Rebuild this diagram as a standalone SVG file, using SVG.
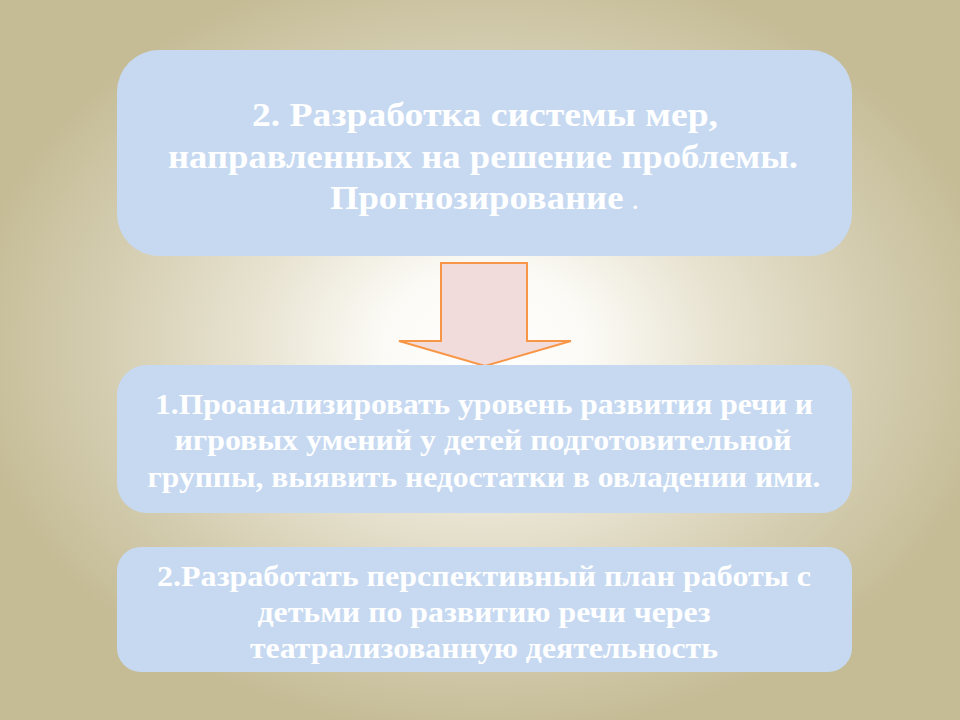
<svg xmlns="http://www.w3.org/2000/svg" width="960" height="720" viewBox="0 0 960 720">
  <defs>
    <radialGradient id="bg" cx="485" cy="345" r="520" gradientUnits="userSpaceOnUse" gradientTransform="translate(485 345) scale(1 0.75) translate(-485 -345)">
      <stop offset="0" stop-color="#ffffff"/>
      <stop offset="0.2" stop-color="#fbfaf5"/>
      <stop offset="0.45" stop-color="#e8e3d1"/>
      <stop offset="0.75" stop-color="#d3ccaf"/>
      <stop offset="1" stop-color="#c5bc96"/>
    </radialGradient>
    <style>
      .box { fill: #c6d9f1; }
      .t { font-family: "Liberation Serif", "Times New Roman", serif; font-weight: bold; fill: #ffffff; text-anchor: middle; }
      .t1 { font-size: 34px; }
      .t2 { font-size: 30px; }
      .arrow { fill: #f2dcdb; stroke: #f79646; stroke-width: 2; stroke-linejoin: miter; }
    </style>
  </defs>
  <rect width="960" height="720" fill="url(#bg)"/>

  <g id="node-top">
    <rect class="box" x="117" y="50" width="735" height="206" rx="42" ry="42"/>
    <text class="t t1" x="485" y="126" textLength="466" lengthAdjust="spacingAndGlyphs">2. Разработка системы мер,</text>
    <text class="t t1" x="483" y="168" textLength="630" lengthAdjust="spacingAndGlyphs">направленных на решение проблемы.</text>
    <text class="t t1" x="484" y="209" textLength="308" lengthAdjust="spacingAndGlyphs">Прогнозирование <tspan font-size="20px">.</tspan></text>
  </g>

  <g id="connectors">
    <polygon class="arrow" points="441,263 527,263 527,341 571,341 485,366 399,341 441,341"/>
  </g>

  <g id="node-task1">
    <rect class="box" x="117" y="365" width="735" height="148" rx="30" ry="30"/>
    <text class="t t2" x="484" y="414" textLength="658" lengthAdjust="spacingAndGlyphs">1.Проанализировать уровень развития речи и</text>
    <text class="t t2" x="483" y="450" textLength="617" lengthAdjust="spacingAndGlyphs">игровых умений у детей подготовительной</text>
    <text class="t t2" x="484" y="487" textLength="673" lengthAdjust="spacingAndGlyphs">группы, выявить недостатки в овладении ими.</text>
  </g>

  <g id="node-task2">
    <rect class="box" x="117" y="547" width="735" height="125" rx="24" ry="24"/>
    <text class="t t2" x="484" y="586" textLength="654" lengthAdjust="spacingAndGlyphs">2.Разработать  перспективный план работы с</text>
    <text class="t t2" x="484" y="622" textLength="453" lengthAdjust="spacingAndGlyphs">детьми по развитию речи через</text>
    <text class="t t2" x="484" y="658" textLength="468" lengthAdjust="spacingAndGlyphs">театрализованную деятельность</text>
  </g>
</svg>
